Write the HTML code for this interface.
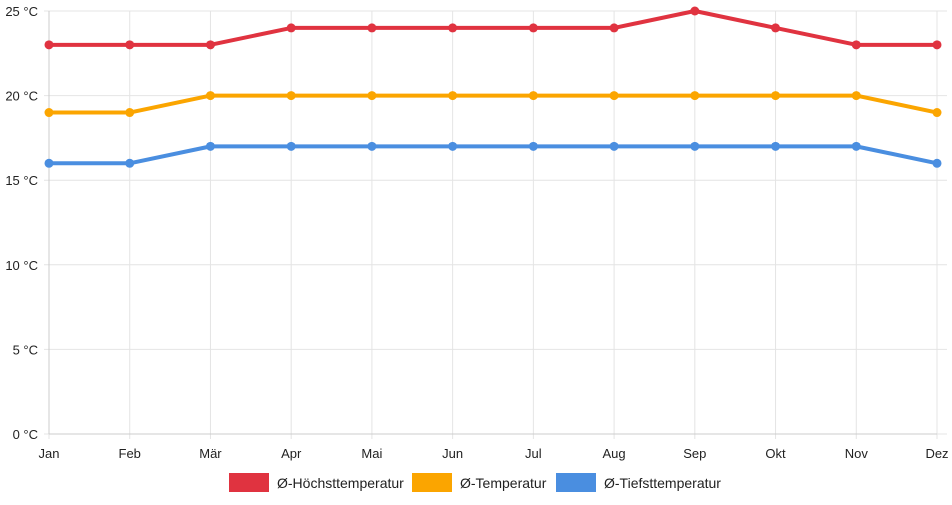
<!DOCTYPE html>
<html><head><meta charset="utf-8"><style>
body{margin:0;background:#fff;font-family:"Liberation Sans",sans-serif}
svg text{font-family:"Liberation Sans",sans-serif;font-size:13px;fill:#222}
svg text.leg{font-size:14px}
</style></head><body>
<svg id="c" width="952" height="500"></svg>
<script>
const months=["Jan","Feb","Mär","Apr","Mai","Jun","Jul","Aug","Sep","Okt","Nov","Dez"];
const highs=[23,23,23,24,24,24,24,24,25,24,23,23];
const avgs=[19,19,20,20,20,20,20,20,20,20,20,19];
const lows=[16,16,17,17,17,17,17,17,17,17,17,16];
const yTicks=[0,5,10,15,20,25];
const seriesNames=["Ø-Höchsttemperatur","Ø-Temperatur","Ø-Tiefsttemperatur"];
const colors=["#e03340","#fba500","#4a8ee0"];
const svg=document.getElementById('c');
const NS="http://www.w3.org/2000/svg";
const x0=49,x1=937,y0=434,y1=11;
const xs=i=>x0+i*(x1-x0)/(months.length-1);
const ys=v=>y0-(v/25)*(y0-y1);
function mk(t,a){const e=document.createElementNS(NS,t);for(const k in a)e.setAttribute(k,a[k]);svg.appendChild(e);return e;}
yTicks.forEach(v=>{
 const l=mk('line',{x1:x0-5,x2:x1+10,y1:ys(v),y2:ys(v),stroke:'#e4e4e4'});
 
 
 const t=mk('text',{x:38,y:ys(v)+5,'text-anchor':'end'});t.textContent=v+' °C';
 
 
});
months.forEach((m,i)=>{
 const l=mk('line',{x1:xs(i),x2:xs(i),y1:y1,y2:y0+5,stroke:'#e4e4e4'});
 
 
 const t=mk('text',{x:xs(i),y:458,'text-anchor':'middle'});t.textContent=m;
 
 
});
mk('line',{x1:x0,x2:x0,y1:y1,y2:y0,stroke:'#ccc'});
mk('line',{x1:x0,x2:x1,y1:y0,y2:y0,stroke:'#ccc'});
[highs,avgs,lows].forEach((s,k)=>{
 const p=mk('polyline',{points:s.map((v,i)=>xs(i)+','+ys(v)).join(' '),fill:'none',stroke:colors[k],'stroke-width':4,'stroke-linejoin':'round'});
 
 
 s.forEach((v,i)=>{const c=mk('circle',{cx:xs(i),cy:ys(v),r:4.5,fill:colors[k]});
  
  });
});
const lx=[229,412,556];
seriesNames.forEach((n,k)=>{
 const r=mk('rect',{x:lx[k],y:473,width:40,height:19,fill:colors[k]});
 
 
 const t=mk('text',{x:lx[k]+48,y:488,'class':'leg'});t.textContent=n;
 
 
});
</script>
</body></html>
